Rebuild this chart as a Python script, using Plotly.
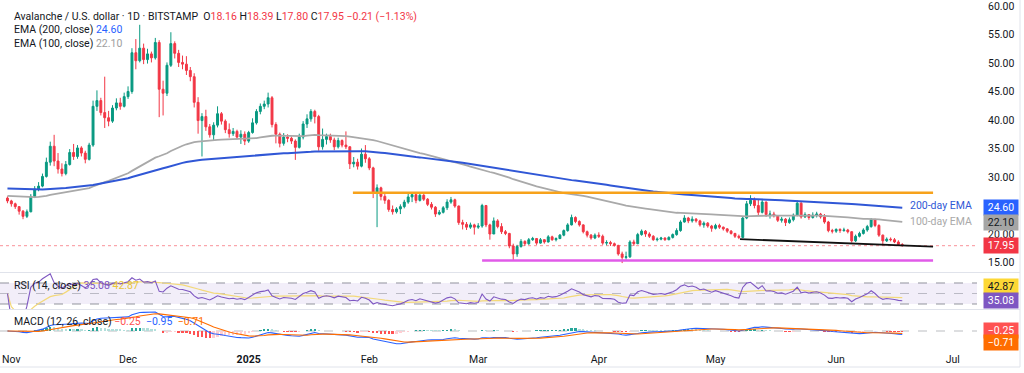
import numpy as np
import pandas as pd
import plotly.graph_objects as go

# ---------------- DATA ----------------
first_date = "2024-10-31"
first_open = 26.3

close = [
    25.8,  # Oct 31
    # Nov
    25.3, 24.8, 24.0, 23.1, 23.9, 26.6, 27.9, 28.4, 30.1, 32.6, 35.4, 32.8, 31.4, 30.6, 32.2,
    34.3, 33.6, 35.1, 34.2, 33.1, 35.6, 42.4, 43.4, 41.3, 40.4, 39.8, 42.1, 43.0, 42.4, 44.1,
    # Dec
    45.0, 51.8, 50.4, 52.6, 50.6, 51.6, 50.9, 53.6, 45.4, 44.7, 49.6, 53.4, 51.7, 50.1, 49.8,
    48.7, 47.6, 43.1, 39.9, 40.6, 38.8, 37.4, 39.1, 41.1, 39.8, 38.3, 37.6, 38.0, 37.0, 37.5, 36.3,
    # Jan
    37.8, 39.5, 41.5, 42.4, 42.8, 43.9, 39.2, 37.5, 35.9, 37.0, 36.8, 36.3, 35.2, 37.0, 39.3,
    40.2, 41.5, 40.6, 35.3, 36.6, 37.1, 36.5, 35.3, 36.4, 35.6, 35.3, 32.3, 32.6, 31.9, 34.0, 33.2,
    # Feb
    31.6, 27.2, 28.1, 26.6, 25.9, 24.3, 23.9, 24.4, 24.8, 25.6, 26.5, 26.9, 25.9, 26.8,
    26.1, 25.2, 24.7, 23.5, 23.8, 24.6, 25.6, 26.0, 24.9, 22.0, 21.7, 21.2, 21.6, 21.2,
    # Mar
    21.4, 25.0, 21.6, 20.0, 22.3, 21.3, 20.4, 20.1, 17.9, 16.5, 17.8, 18.7, 18.3, 19.0, 19.2,
    18.4, 19.0, 18.6, 19.5, 19.0, 19.2, 19.8, 20.6, 21.6, 22.9, 22.2, 21.6, 20.4, 19.8, 19.3, 19.8,
    # Apr
    19.6, 18.4, 18.5, 18.3, 18.0, 16.5, 15.9, 16.0, 18.6, 18.3, 19.9, 20.5, 20.0, 19.6, 19.0,
    19.1, 19.3, 19.0, 19.4, 19.9, 20.6, 22.1, 22.8, 22.3, 22.6, 22.3, 21.6, 21.9, 21.4, 21.0,
    # May
    21.5, 21.2, 20.9, 20.5, 20.1, 19.6, 19.4, 22.8, 25.3, 25.9, 25.0, 23.8, 25.6, 23.4, 23.5,
    23.2, 22.4, 22.6, 22.0, 22.5, 23.3, 25.4, 23.0, 23.4, 22.9, 23.3, 23.5, 23.0, 22.1, 20.6, 20.5,
    # Jun
    20.8, 20.6, 20.7, 20.4, 18.8, 19.6, 20.1, 20.7, 21.3, 22.5, 21.5, 19.8, 18.8, 19.1, 19.0,
    18.6, 18.16, 17.95,
]

high = [
    26.6,
    26.0, 25.5, 24.9, 24.2, 24.3, 27.0, 28.4, 29.1, 30.6, 33.4, 36.2, 37.4, 34.2, 32.4, 32.8,
    34.9, 35.8, 35.6, 35.4, 34.6, 36.0, 43.4, 45.2, 43.9, 47.6, 41.6, 42.6, 43.8, 43.9, 44.8,
    45.9, 52.6, 54.2, 56.7, 53.4, 52.5, 52.0, 54.4, 54.0, 46.9, 50.1, 55.4, 53.8, 52.3, 51.3,
    51.2, 49.3, 48.2, 44.0, 41.2, 41.8, 39.3, 39.6, 42.4, 41.4, 40.1, 39.4, 38.6, 38.3, 38.2, 38.0,
    38.1, 40.3, 41.9, 42.9, 43.4, 44.8, 44.2, 39.6, 37.8, 37.7, 37.5, 37.1, 36.6, 37.6, 39.8,
    41.0, 41.9, 41.8, 40.9, 38.5, 37.6, 37.6, 36.9, 36.9, 36.6, 38.0, 35.4, 33.5, 33.2, 35.0, 35.6,
    33.5, 31.8, 28.7, 28.3, 27.0, 26.1, 25.0, 24.7, 25.2, 26.0, 27.1, 27.3, 27.1, 27.3,
    27.0, 26.3, 25.6, 24.9, 24.2, 24.9, 26.1, 26.5, 26.2, 25.0, 22.5, 22.1, 22.0, 21.8,
    21.9, 25.3, 25.1, 21.8, 22.9, 22.6, 21.9, 20.7, 20.2, 18.3, 18.1, 19.1, 18.9, 19.3, 19.5,
    19.3, 19.3, 19.1, 19.8, 19.7, 19.4, 20.0, 20.8, 21.9, 23.4, 23.1, 22.4, 21.7, 20.6, 20.0, 20.1,
    20.3, 19.9, 18.9, 18.8, 18.5, 18.1, 16.9, 16.9, 18.9, 19.0, 20.2, 20.8, 20.7, 20.3, 19.8,
    19.4, 19.5, 19.4, 19.6, 20.1, 21.0, 22.4, 23.3, 23.0, 23.1, 22.8, 22.5, 22.2, 22.1, 21.6,
    21.8, 21.8, 21.3, 21.0, 20.7, 20.2, 19.9, 23.1, 25.8, 26.8, 26.4, 26.1, 26.0, 25.7, 24.1,
    23.9, 23.3, 23.0, 22.8, 22.9, 23.6, 25.9, 25.6, 23.8, 23.5, 23.8, 23.9, 23.7, 23.5, 22.3, 20.9,
    21.0, 21.0, 21.1, 20.9, 20.5, 19.9, 20.4, 21.0, 21.6, 22.8, 22.7, 21.7, 19.9, 19.4, 19.4,
    19.3, 18.9, 18.39,
]

low = [
    25.4,
    24.8, 24.4, 23.4, 22.6, 22.8, 23.8, 26.3, 27.5, 28.2, 29.9, 32.0, 31.9, 30.6, 30.1, 30.3,
    32.0, 33.0, 33.2, 33.6, 32.4, 32.9, 35.3, 41.6, 40.8, 38.6, 38.9, 39.5, 41.7, 41.8, 42.2,
    43.7, 44.6, 48.9, 50.1, 49.8, 49.9, 50.1, 50.6, 40.5, 40.8, 44.2, 49.3, 50.8, 49.3, 48.9,
    47.9, 46.8, 42.2, 37.6, 33.6, 38.1, 36.9, 36.5, 38.7, 39.2, 37.7, 36.9, 37.2, 36.6, 35.8, 35.6,
    36.0, 37.6, 39.2, 41.0, 41.9, 42.2, 38.7, 35.9, 35.2, 35.5, 36.1, 35.8, 33.0, 35.0, 36.6,
    38.6, 39.7, 39.4, 34.6, 34.8, 35.7, 36.0, 34.7, 35.0, 35.2, 34.9, 31.4, 31.7, 31.3, 31.7, 32.5,
    31.2, 26.3, 21.2, 25.9, 25.3, 23.9, 23.4, 23.6, 23.5, 24.5, 25.3, 25.6, 25.4, 25.7,
    25.8, 24.9, 24.3, 23.0, 23.3, 23.6, 24.2, 25.3, 24.6, 21.6, 20.8, 20.7, 20.9, 19.9,
    20.9, 21.1, 21.2, 19.0, 20.0, 21.0, 20.0, 19.8, 17.5, 15.4, 16.0, 17.6, 17.9, 18.1, 18.8,
    18.1, 18.3, 18.3, 18.5, 18.8, 18.7, 19.1, 19.6, 20.4, 21.5, 21.9, 21.3, 20.1, 19.4, 19.0, 19.1,
    19.3, 18.1, 18.0, 17.9, 17.8, 16.2, 14.9, 15.5, 15.8, 17.9, 18.2, 19.7, 19.5, 19.3, 18.8,
    18.7, 18.9, 18.8, 18.9, 19.2, 19.7, 20.4, 22.0, 21.9, 22.0, 22.0, 21.3, 21.1, 21.1, 20.4,
    20.8, 20.9, 20.6, 20.2, 19.9, 19.3, 19.1, 19.3, 22.6, 24.9, 24.5, 23.2, 23.6, 23.0, 22.7,
    22.9, 22.1, 22.0, 21.4, 21.8, 22.2, 23.1, 22.7, 22.8, 22.5, 22.7, 22.9, 22.7, 21.8, 20.3, 20.1,
    20.2, 20.2, 20.4, 20.1, 18.5, 18.6, 19.4, 19.9, 20.4, 21.1, 21.2, 19.5, 18.0, 18.6, 18.7,
    18.4, 17.9, 17.80,
]

# EMA values on the day before the first visible candle
ema200_seed = 28.0
ema100_seed = 26.7

# Drawn levels / trend line
resistance_level = 27.25
resistance_dates = ["2025-01-27 19:00", "2025-06-25 22:00"]
support_level = 15.35
support_dates = ["2025-03-02 00:00", "2025-06-25 22:00"]
trend_dates = ["2025-05-07 07:00", "2025-06-25 22:00"]
trend_prices = [19.1, 17.8]

price_ticks = [15, 20, 30, 35, 40, 45, 50, 55, 60]
month_ticks = ["2024-11-01", "2024-12-01", "2025-01-01", "2025-02-01", "2025-03-01",
               "2025-04-01", "2025-05-01", "2025-06-01", "2025-07-01"]
month_text = ["Nov", "Dec", "<b>2025</b>", "Feb", "Mar", "Apr", "May", "Jun", "Jul"]

# ---------------- derived ----------------
n = len(close)
dates = pd.date_range(first_date, periods=n, freq="D")
c = pd.Series(close, index=dates)
opens = [first_open] + close[:-1]

ema200 = pd.concat([pd.Series([ema200_seed]), pd.Series(close)]).ewm(span=200, adjust=False).mean().iloc[1:].values
ema100 = pd.concat([pd.Series([ema100_seed]), pd.Series(close)]).ewm(span=100, adjust=False).mean().iloc[1:].values

delta = c.diff().fillna(0)
gain = delta.clip(lower=0).ewm(alpha=1/14, adjust=True).mean()
loss = (-delta.clip(upper=0)).ewm(alpha=1/14, adjust=True).mean()
rsi = 100 - 100 / (1 + gain / loss.replace(0, np.nan))
rsi = rsi.fillna(50)
rsi_ma = rsi.rolling(14, min_periods=1).mean()

ema12 = c.ewm(span=12, adjust=False).mean()
ema26 = c.ewm(span=26, adjust=False).mean()
macd = ema12 - ema26
signal = macd.ewm(span=9, adjust=False).mean()
hist = macd - signal
prev = hist.shift(1).fillna(0)
hist_colors = np.where(hist >= 0,
                       np.where(hist > prev, "#26A69A", "#B2DFDB"),
                       np.where(hist < prev, "#FF5252", "#FFCDD2"))

# ---------------- geometry ----------------
W, H = 1024, 373
PLOT_W, PLOT_H = 977, 348


def px(x):
    return x / PLOT_W


def py(y):
    return (PLOT_H - y) / PLOT_H


FONT = "Roboto"
TXT = "#131722"
GREEN, RED = "#089981", "#F23645"

fig = go.Figure()

fig.add_trace(go.Candlestick(
    x=dates, open=opens, high=high, low=low, close=close,
    increasing=dict(line=dict(color=GREEN, width=1), fillcolor=GREEN),
    decreasing=dict(line=dict(color=RED, width=1), fillcolor=RED),
    whiskerwidth=0, xaxis="x", yaxis="y", showlegend=False, hoverinfo="skip"))

fig.add_trace(go.Scatter(x=dates, y=ema100, mode="lines", line=dict(color="#A9A9A9", width=1.8),
                         xaxis="x", yaxis="y", showlegend=False, hoverinfo="skip"))
fig.add_trace(go.Scatter(x=dates, y=ema200, mode="lines", line=dict(color="#3057D6", width=2),
                         xaxis="x", yaxis="y", showlegend=False, hoverinfo="skip"))

# RSI pane
fig.add_trace(go.Scatter(x=dates, y=rsi_ma, mode="lines", line=dict(color="#F3D97A", width=1.2),
                         xaxis="x", yaxis="y2", showlegend=False, hoverinfo="skip"))
fig.add_trace(go.Scatter(x=dates, y=rsi, mode="lines", line=dict(color="#7E57C2", width=1.1),
                         xaxis="x", yaxis="y2", showlegend=False, hoverinfo="skip"))

# MACD pane
fig.add_trace(go.Bar(x=dates, y=hist, marker=dict(color=list(hist_colors), line=dict(width=0)),
                     width=0.6 * 86400000, xaxis="x", yaxis="y3", showlegend=False, hoverinfo="skip"))
fig.add_trace(go.Scatter(x=dates, y=macd, mode="lines", line=dict(color="#2962FF", width=1.1),
                         xaxis="x", yaxis="y3", showlegend=False, hoverinfo="skip"))
fig.add_trace(go.Scatter(x=dates, y=signal, mode="lines", line=dict(color="#FF6D00", width=1.1),
                         xaxis="x", yaxis="y3", showlegend=False, hoverinfo="skip"))

macd_top = macd.max() * 21 / 19.0
macd_bot = -macd.max() * 17 / 19.0

x_range = ["2024-10-29 02:00", "2025-07-07 05:00"]

fig.update_layout(
    width=W, height=H,
    margin=dict(l=0, r=W - PLOT_W, t=0, b=H - PLOT_H, autoexpand=False),
    paper_bgcolor="white", plot_bgcolor="white",
    font=dict(family=FONT, size=10.5, color=TXT),
    xaxis=dict(type="date", range=x_range, domain=[0, 1], anchor="y3", automargin=False,
               tickvals=month_ticks, ticktext=month_text, showgrid=False, zeroline=False,
               showline=False, ticks="", tickfont=dict(size=10.5, color=TXT), ticklabelstandoff=3,
               rangeslider=dict(visible=False), fixedrange=True),
    yaxis=dict(domain=[py(272), 1], range=[20 - (272 - 234) / 5.7, 20 + 234 / 5.7],
               side="right", anchor="x", tickvals=price_ticks, tickformat=".2f", automargin=False,
               showgrid=False, zeroline=False, showline=False, ticks="", ticklabeloverflow="allow",
               ticklabelstandoff=10, tickfont=dict(size=10.5, color=TXT)),
    yaxis2=dict(domain=[py(309), py(273)], range=[20.5, 89], side="right", anchor="x", automargin=False,
                showticklabels=False, showgrid=False, zeroline=False, showline=False),
    yaxis3=dict(domain=[0, py(310)], range=[macd_bot, macd_top], side="right", anchor="x", automargin=False,
                showticklabels=False, showgrid=False, zeroline=False, showline=False),
    bargap=0,
)

shapes = []
# RSI band
shapes.append(dict(type="rect", xref="paper", yref="y2", x0=0, x1=1, y0=30, y1=70,
                   fillcolor="rgba(126,87,194,0.10)", line=dict(width=0), layer="below"))
for lvl, op in [(70, 0.8), (50, 0.45), (30, 0.8)]:
    shapes.append(dict(type="line", xref="paper", yref="y2", x0=0, x1=1, y0=lvl, y1=lvl,
                       line=dict(color=f"rgba(120,123,134,{op})", width=1, dash="dash"), layer="below"))
# MACD zero line
shapes.append(dict(type="line", xref="paper", yref="y3", x0=0, x1=1, y0=0, y1=0,
                   line=dict(color="rgba(120,123,134,0.5)", width=1, dash="dash"), layer="below"))
# last price dotted line
shapes.append(dict(type="line", xref="paper", yref="y", x0=0, x1=1, y0=close[-1], y1=close[-1],
                   line=dict(color="rgba(242,54,69,0.55)", width=1, dash="dot"), layer="below"))
# levels
shapes.append(dict(type="line", xref="x", yref="y", x0=resistance_dates[0], x1=resistance_dates[1],
                   y0=resistance_level, y1=resistance_level, line=dict(color="#F7A21B", width=2.5)))
shapes.append(dict(type="line", xref="x", yref="y", x0=support_dates[0], x1=support_dates[1],
                   y0=support_level, y1=support_level, line=dict(color="#E15BE8", width=2.5)))
shapes.append(dict(type="line", xref="x", yref="y", x0=trend_dates[0], x1=trend_dates[1],
                   y0=trend_prices[0], y1=trend_prices[1], line=dict(color="#111111", width=1.8)))
# pane separators and frame
for ysep in [272.5, 309.5]:
    shapes.append(dict(type="line", xref="paper", yref="paper", x0=0, x1=px(1020),
                       y0=py(ysep), y1=py(ysep), line=dict(color="#E0E3EB", width=1)))
shapes.append(dict(type="line", xref="paper", yref="paper", x0=px(1020), x1=px(1020),
                   y0=py(0), y1=py(367), line=dict(color="#E0E3EB", width=1)))
shapes.append(dict(type="line", xref="paper", yref="paper", x0=0, x1=px(1020),
                   y0=py(367), y1=py(367), line=dict(color="#E0E3EB", width=1)))
fig.update_layout(shapes=shapes)

ann = []


def text(x, y, t, size=10.5, color=TXT, anchor="left", yref="paper", xref="paper"):
    ann.append(dict(x=x, y=y, xref=xref, yref=yref, text=t, showarrow=False,
                    xanchor=anchor, yanchor="middle", font=dict(size=size, color=color, family=FONT)))


def sp(t, col):
    return f"<span style='color:{col}'>{t}</span>"


text(px(12), py(16), "Avalanche / U.S. dollar · 1D · BITSTAMP  "
     + "O" + sp("18.16", RED) + " H" + sp("18.39", RED) + " L" + sp("17.80", RED)
     + " C" + sp("17.95", RED) + " " + sp("−0.21 (−1.13%)", RED))
text(px(12), py(30), "EMA (200, close) " + sp("24.60", "#2962FF"))
text(px(12), py(44), "EMA (100, close) " + sp("22.10", "#9E9E9E"))
text(px(12), py(285), "RSI (14, close) " + sp("35.08", "#7E57C2") + " " + sp("42.87", "#E9C53A"))
text(px(12), py(321), "MACD (12, 26, close) " + sp("−0.25", "#FF5252") + "  " + sp("−0.95", "#2962FF")
     + "  " + sp("−0.71", "#FF6D00"))

# EMA end labels
text(px(908), 24.96, "200-day EMA", size=10.5, color="#3057D6", yref="y")
text(px(908), 22.28, "100-day EMA", size=10.5, color="#A9A9A9", yref="y")


def box(yv, t, bg, fg, yref="y"):
    ann.append(dict(x=px(983), y=yv, xref="paper", yref=yref, text=t, showarrow=False,
                    xanchor="left", yanchor="middle", bgcolor=bg, borderpad=1, width=32,
                    font=dict(size=10.5, color=fg, family=FONT)))


box(24.60, "24.60", "#2962FF", "white")
box(22.10, "22.10", "#A5A5A5", "#131722")
box(17.95, "17.95", "#F23645", "white")
box(py(286), "42.87", "#FDD835", "#131722", yref="paper")
box(py(300.5), "35.08", "#7E57C2", "white", yref="paper")
box(py(330.5), "−0.25", "#FF5252", "white", yref="paper")
box(py(342.5), "−0.71", "#FF6D00", "white", yref="paper")

fig.update_layout(annotations=ann)

fig.write_html("out.html", config={"displayModeBar": False, "staticPlot": True},
               post_script="document.body.style.margin='0';document.body.style.overflow='hidden';")
